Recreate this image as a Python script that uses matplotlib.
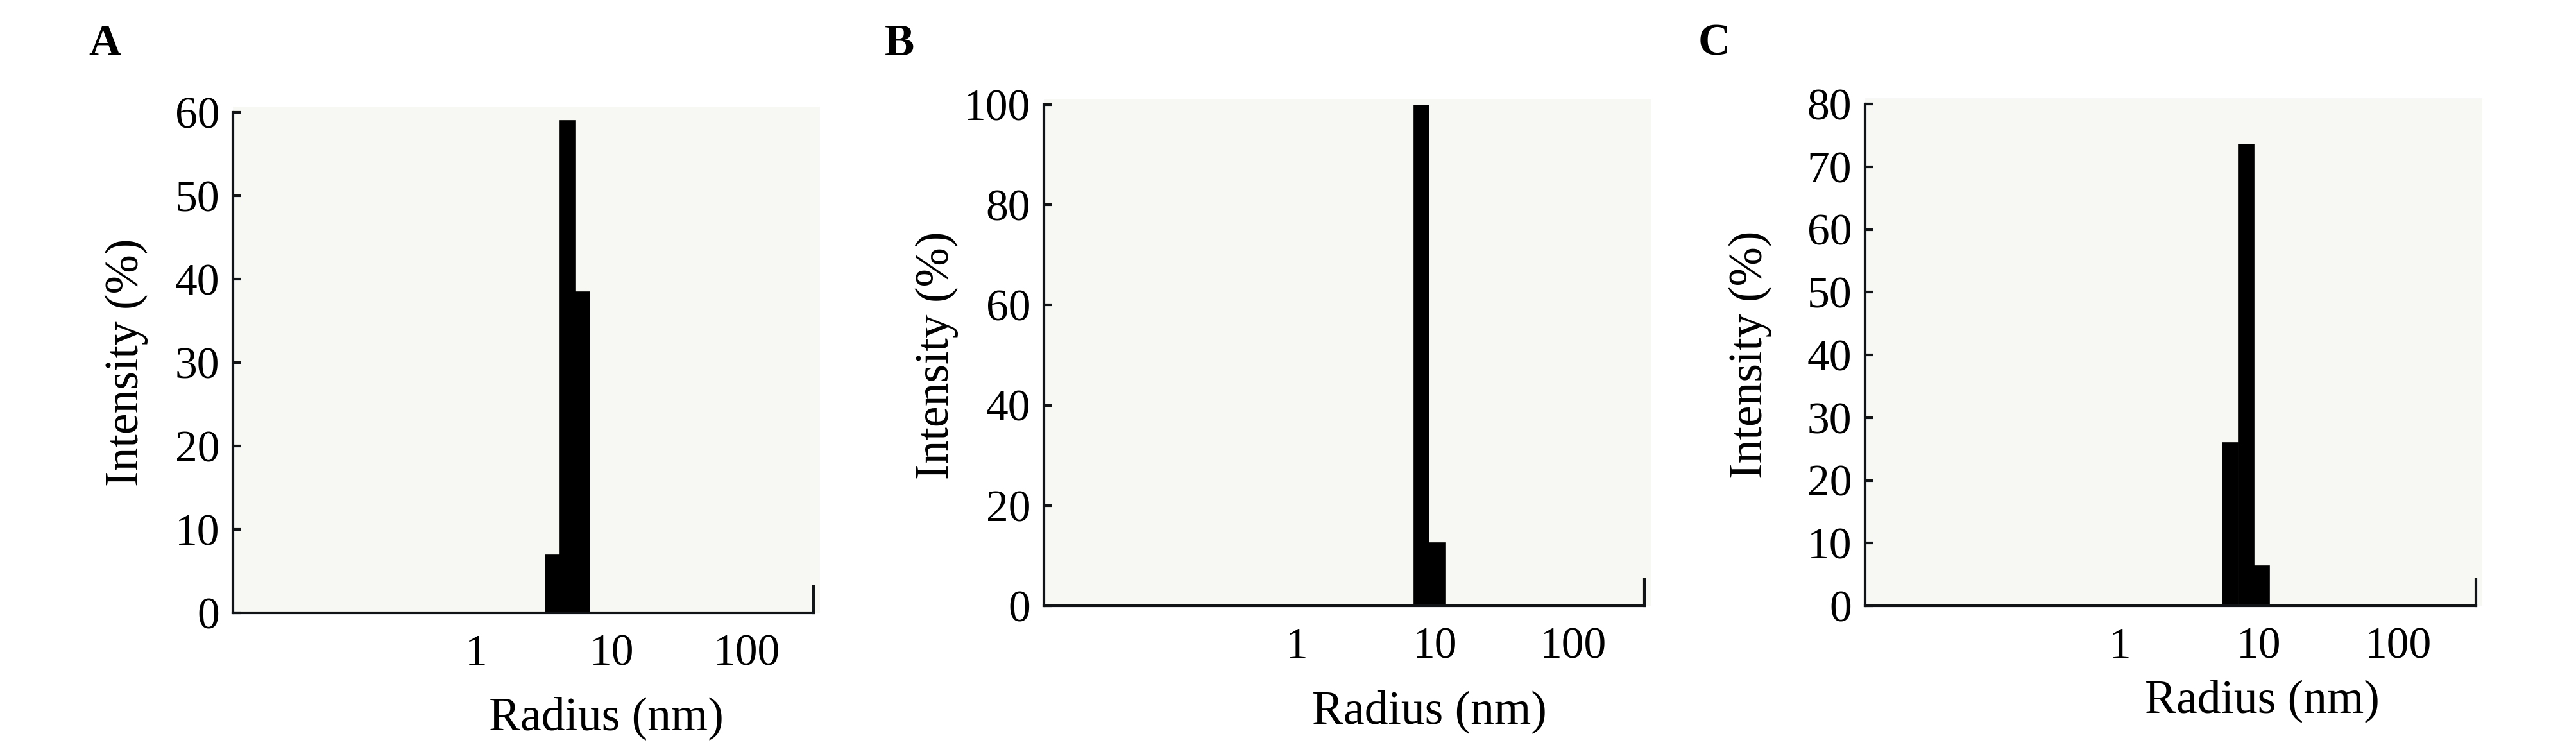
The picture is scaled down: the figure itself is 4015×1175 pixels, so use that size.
import numpy as np
import matplotlib
matplotlib.use("Agg")
from matplotlib import pyplot as plt
from matplotlib.patches import Rectangle

# Daten (Radius in nm = Klassenmitte, Intensität in %)
radius_a = [3.67, 4.72, 6.05]
intensity_a = [6.9, 59.0, 38.5]

radius_b = [7.98, 10.35]
intensity_b = [100.0, 12.5]

radius_c = [6.2, 8.13, 10.43]
intensity_c = [26.0, 73.6, 6.3]

panel_letters = ["A", "B", "C"]
y_max = [60, 100, 80]
y_step = [10, 20, 10]
x_ticks = [1, 10, 100]
x_ticklabels = ["1", "10", "100"]

# Layout
FONT = "Liberation Serif"
AXIS_COLOR = "#111416"
BG_COLOR = "#f7f7f4"
BIN_HALF = 10 ** 0.055  # halbe Klassenbreite (log)

positions = [
    [0.0904, 0.1872, 0.2253, 0.6638],
    [0.4051, 0.1966, 0.2331, 0.6647],
    [0.7239, 0.1966, 0.2370, 0.6655],
]
x_limits = [(0.0159, 309), (0.0146, 330), (0.0148, 363)]
ylabel_x = [-0.146, -0.142, -0.153]
xlabel_pos = [(0.643, -0.211), (0.642, -0.211), (0.650, -0.190)]
letter_x = [163, 1402, 2672]

plt.rcParams["font.family"] = [FONT, "DejaVu Serif"]

fig = plt.figure(figsize=(40.16, 11.75), dpi=100)

data = [(radius_a, intensity_a), (radius_b, intensity_b), (radius_c, intensity_c)]

for i, (radius, intensity) in enumerate(data):
    ax = fig.add_axes(positions[i])
    ax.set_facecolor("none")
    ax.add_patch(Rectangle((0, 0), 1.011, 1.011, transform=ax.transAxes,
                           facecolor=BG_COLOR, edgecolor="none", zorder=0, clip_on=False))

    r = np.array(radius)
    left = r / BIN_HALF
    width = r * BIN_HALF - left
    ax.bar(left, intensity, width=width, align="edge", color="black",
           edgecolor="black", linewidth=1.2, zorder=2)

    ax.set_xscale("log")
    ax.set_xlim(*x_limits[i])
    ax.set_ylim(0, y_max[i])

    ax.set_xticks(x_ticks)
    ax.set_xticklabels(x_ticklabels)
    ax.xaxis.set_minor_locator(matplotlib.ticker.NullLocator())
    ax.set_yticks(np.arange(0, y_max[i] + 1, y_step[i]))

    ax.tick_params(axis="x", length=0, pad=24, labelsize=50)
    ax.tick_params(axis="y", direction="in", length=9.5, width=3, pad=15,
                   labelsize=50, color=AXIS_COLOR)

    for s in ["top", "right"]:
        ax.spines[s].set_visible(False)
    for s in ["left", "bottom"]:
        ax.spines[s].set_color(AXIS_COLOR)
        ax.spines[s].set_linewidth(3)
    ax.spines["left"].set_bounds(0, y_max[i])

    # kleiner Endstrich am rechten Ende der x-Achse
    ax.axvline(x_limits[i][1], 0, 0.053, color=AXIS_COLOR, lw=3, clip_on=False)

    ax.set_ylabel("Intensity (%)", fontsize=53)
    ax.yaxis.set_label_coords(ylabel_x[i], 0.5)
    ax.set_xlabel("Radius (nm)", fontsize=53, va="center")
    ax.xaxis.set_label_coords(*xlabel_pos[i])

    fig.text(letter_x[i] / 4016, 1 - 86 / 1175, panel_letters[i],
             fontsize=50, fontweight="bold", ha="center", va="baseline")

fig.savefig("out.png", dpi=100, facecolor="white")
